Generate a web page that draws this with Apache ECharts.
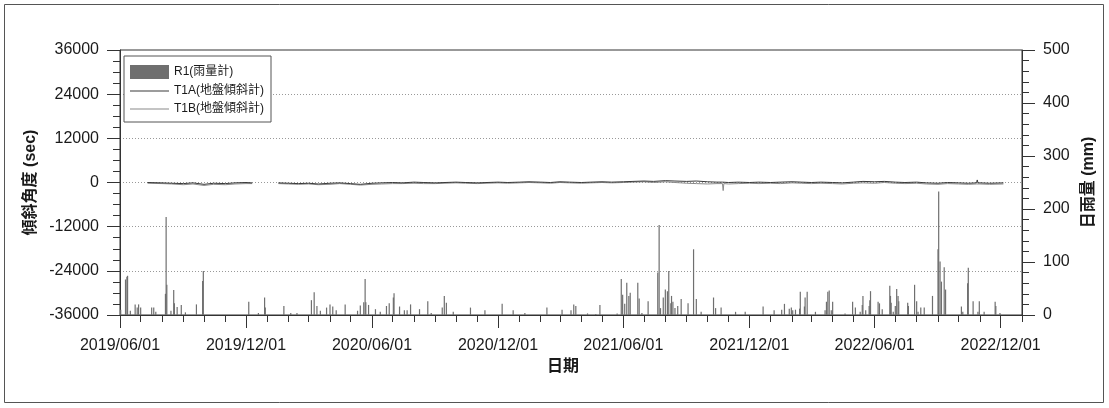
<!DOCTYPE html>
<html>
<head>
<meta charset="utf-8">
<script src="https://cdn.jsdelivr.net/npm/echarts@6/dist/echarts.min.js"></script>
<style>
html,body{margin:0;padding:0;background:#fff;}
#chart{width:1109px;height:408px;}
</style>
</head>
<body>
<div id="chart"></div>
<script>
// ---------- DATA ----------
const seriesNames = ['R1(雨量計)', 'T1A(地盤傾斜計)', 'T1B(地盤傾斜計)'];

const rainDates = [
'2019-06-02','2019-06-09','2019-06-11','2019-06-12','2019-06-16','2019-06-23','2019-06-26','2019-06-28','2019-07-01','2019-07-17',
'2019-07-20','2019-07-23','2019-08-06','2019-08-07','2019-08-08','2019-08-14','2019-08-18','2019-08-19','2019-08-23','2019-08-29',
'2019-09-04','2019-09-20','2019-09-29','2019-09-30','2019-12-05','2019-12-19','2019-12-28','2019-12-29','2020-01-25','2020-02-04',
'2020-02-13','2020-03-05','2020-03-09','2020-03-13','2020-03-18','2020-03-27','2020-04-01','2020-04-05','2020-04-10','2020-04-23',
'2020-05-11','2020-05-15','2020-05-20','2020-05-22','2020-05-23','2020-05-27','2020-06-06','2020-06-13','2020-06-22','2020-06-26',
'2020-07-02','2020-07-03','2020-07-11','2020-07-18','2020-07-22','2020-07-27','2020-08-09','2020-08-21','2020-08-26','2020-09-11',
'2020-09-14','2020-09-17','2020-09-27','2020-10-22','2020-11-12','2020-12-07','2020-12-23','2021-01-09','2021-02-10','2021-03-04',
'2021-03-17','2021-03-21','2021-03-24','2021-04-10','2021-04-22','2021-04-28','2021-05-23','2021-05-29','2021-05-31','2021-06-03',
'2021-06-06','2021-06-09','2021-06-11','2021-06-22','2021-06-24','2021-06-28','2021-07-07','2021-07-21','2021-07-23','2021-07-25',
'2021-07-29','2021-08-01','2021-08-04','2021-08-06','2021-08-09','2021-08-10','2021-08-12','2021-08-15','2021-08-19','2021-08-24',
'2021-09-03','2021-09-11','2021-09-15','2021-09-22','2021-10-10','2021-10-13','2021-10-21','2021-11-11','2021-11-25','2021-12-21',
'2022-01-06','2022-01-17','2022-01-21','2022-01-28','2022-01-31','2022-02-02','2022-02-06','2022-02-12','2022-02-13','2022-02-19',
'2022-02-20','2022-02-23','2022-03-07','2022-03-21','2022-03-23','2022-03-25','2022-03-27','2022-03-30','2022-04-01','2022-04-19',
'2022-04-30','2022-05-04','2022-05-11','2022-05-14','2022-05-15','2022-05-19','2022-05-24','2022-05-25','2022-05-26','2022-06-06',
'2022-06-08','2022-06-12','2022-06-23','2022-06-24','2022-06-25','2022-06-28','2022-07-01','2022-07-03','2022-07-05','2022-07-06',
'2022-07-19','2022-07-20','2022-07-29','2022-08-01','2022-08-03','2022-08-07','2022-08-12','2022-08-24','2022-09-01','2022-09-02',
'2022-09-04','2022-09-06','2022-09-10','2022-09-12','2022-10-05','2022-10-07','2022-10-14','2022-10-15','2022-10-22','2022-10-29',
'2022-10-31','2022-11-07','2022-11-23','2022-11-24','2022-11-30'
];
const rainValues = [
10,67,72,74,8,20,14,20,14,14,
14,6,40,185,57,8,47,22,15,19,
5,20,64,83,25,4,33,14,17,4,
4,28,43,17,8,14,20,16,9,20,
8,18,24,68,24,19,11,6,17,22,
33,41,16,9,9,20,11,26,4,14,
36,23,6,14,9,21,9,4,14,10,
9,20,17,3,2,19,3,68,38,21,
61,36,42,61,31,4,26,80,170,13,
33,48,45,83,22,36,25,13,17,30,
22,124,30,6,33,13,14,6,6,16,
9,10,21,12,14,9,10,12,44,16,
33,44,6,9,25,44,46,9,25,3,
25,14,6,19,36,9,17,28,45,25,
22,11,55,36,23,6,17,49,36,26,
23,17,57,26,6,14,14,36,124,233,
101,63,90,48,16,6,60,89,26,6,
26,6,25,17,4
];

const tiltDates = [
'2019-07-11','2019-08-01','2019-08-15','2019-09-01','2019-09-15','2019-10-01','2019-10-15','2019-11-01','2019-11-15','2019-12-01',
'2019-12-10','2019-12-25','2020-01-17','2020-02-01','2020-02-15','2020-03-01','2020-03-15','2020-04-01','2020-04-15','2020-05-01',
'2020-05-15','2020-06-01','2020-06-15','2020-07-01','2020-07-15','2020-08-01','2020-08-15','2020-09-01','2020-09-15','2020-10-01',
'2020-10-15','2020-11-01','2020-11-15','2020-12-01','2020-12-15','2021-01-01','2021-01-15','2021-02-01','2021-02-15','2021-03-01',
'2021-03-15','2021-04-01','2021-04-15','2021-05-01','2021-05-15','2021-06-01','2021-06-15','2021-07-01','2021-07-15','2021-08-01',
'2021-08-15','2021-09-01','2021-09-15','2021-10-01','2021-10-15','2021-10-23','2021-10-24','2021-10-25','2021-11-01','2021-11-15',
'2021-12-01','2021-12-15','2022-01-01','2022-01-15','2022-02-01','2022-02-15','2022-03-01','2022-03-15','2022-04-01','2022-04-15',
'2022-05-01','2022-05-15','2022-06-01','2022-06-15','2022-07-01','2022-07-15','2022-08-01','2022-08-15','2022-09-01','2022-09-15',
'2022-10-01','2022-10-15','2022-10-27','2022-10-28','2022-10-29','2022-11-01','2022-11-15','2022-12-05'
];
const t1aValues = [
0,-100,-200,-300,-100,-500,-200,-300,-100,0,
-100,null,-100,-200,-300,-200,-400,-200,-100,-300,
-500,-200,-100,0,-100,100,0,-100,0,100,
0,-100,0,100,0,100,200,100,0,200,
100,0,100,200,100,200,300,400,300,500,
400,300,400,200,100,100,100,100,0,100,
0,100,0,100,200,100,0,100,0,-100,
100,300,200,300,100,0,100,-100,-200,0,
-100,-200,-100,700,-100,-100,-200,-100
];
const t1bValues = [
-200,-300,-400,-600,-400,-800,-500,-600,-400,-300,
-300,null,-300,-400,-500,-400,-600,-500,-300,-500,
-700,-500,-400,-300,-300,-200,-300,-300,-200,-100,
-200,-300,-200,-100,-200,-100,0,-100,-200,0,
-100,-200,-100,0,-100,0,100,200,0,200,
0,-200,-300,-400,-300,-300,-2200,-300,-400,-300,
-200,-300,-200,-300,-100,-200,-300,-200,-300,-400,
-200,-100,-200,0,-200,-300,-200,-400,-500,-300,
-400,-500,-400,-400,-400,-400,-500,-400
];

const xMin = '2019-06-01';
const xMax = '2023-01-01';
const labelDates = ['2019-06-01','2019-12-01','2020-06-01','2020-12-01','2021-06-01','2021-12-01','2022-06-01','2022-12-01'];
const monthTickDates = [
'2019-06-01','2019-07-01','2019-08-01','2019-09-01','2019-10-01','2019-11-01','2019-12-01',
'2020-01-01','2020-02-01','2020-03-01','2020-04-01','2020-05-01','2020-06-01','2020-07-01','2020-08-01','2020-09-01','2020-10-01','2020-11-01','2020-12-01',
'2021-01-01','2021-02-01','2021-03-01','2021-04-01','2021-05-01','2021-06-01','2021-07-01','2021-08-01','2021-09-01','2021-10-01','2021-11-01','2021-12-01',
'2022-01-01','2022-02-01','2022-03-01','2022-04-01','2022-05-01','2022-06-01','2022-07-01','2022-08-01','2022-09-01','2022-10-01','2022-11-01','2022-12-01',
'2023-01-01'
];
const tiltAxis = {min: -36000, max: 36000, interval: 12000};
const rainAxis = {min: 0, max: 500, interval: 100};

// ---------- CHART ----------
const ts = d => echarts.number.parseDate(d).getTime();
const pad = n => (n < 10 ? '0' : '') + n;
const fmtDate = v => { const d = new Date(v); return d.getFullYear() + '/' + pad(d.getMonth() + 1) + '/' + pad(d.getDate()); };
const FONT = '"Liberation Sans", Arial, "Noto Sans CJK TC", sans-serif';
const AX = '#333';
const TXT = '#1a1a1a';
const C_RAIN = '#6f6f6f', C_A = '#3a3a3a', C_B = '#8a8a8a';
const LINE_ICON = 'path://M0,0h39v1h-39z';

const chart = echarts.init(document.getElementById('chart'), null, {renderer: 'canvas'});

const rainData = rainDates.map((d, i) => [ts(d), rainValues[i]]);
const t1aData = tiltDates.map((d, i) => [ts(d), t1aValues[i]]);
const t1bData = tiltDates.map((d, i) => [ts(d), t1bValues[i]]);

chart.setOption({
  animation: false,
  textStyle: {fontFamily: FONT, color: TXT},
  grid: {left: 120, right: 87, top: 50, bottom: 93, show: true, borderColor: AX, borderWidth: 1, backgroundColor: 'transparent'},
  legend: {
    data: [
      {name: seriesNames[0], icon: 'rect', itemStyle: {color: C_RAIN}},
      {name: seriesNames[1], icon: LINE_ICON, itemStyle: {color: C_A}},
      {name: seriesNames[2], icon: LINE_ICON, itemStyle: {color: C_B}}
    ],
    orient: 'vertical',
    left: 124, top: 56,
    itemWidth: 39, itemHeight: 14, itemGap: 6,
    symbolKeepAspect: true,
    padding: [9, 7, 7, 6],
    borderColor: '#555', borderWidth: 1, backgroundColor: '#fff',
    textStyle: {fontSize: 12, color: TXT, fontFamily: FONT},
    selectedMode: false
  },
  xAxis: [{
    type: 'value',
    min: ts(xMin), max: ts(xMax),
    name: '日期', nameLocation: 'middle', nameGap: 43,
    nameTextStyle: {fontSize: 16, fontWeight: 'bold', color: TXT, fontFamily: FONT, padding: [0, 16, 0, 0]},
    axisLine: {show: true, onZero: false, lineStyle: {color: AX, width: 1}},
    axisTick: {show: true, length: 13, lineStyle: {color: AX}, customValues: labelDates.map(ts)},
    axisLabel: {show: true, fontSize: 16, color: TXT, margin: 23, customValues: labelDates.map(ts), hideOverlap: false,
      formatter: v => fmtDate(v)},
    splitLine: {show: false}
  }, {
    type: 'value',
    position: 'bottom',
    min: ts(xMin), max: ts(xMax),
    axisLine: {show: false, onZero: false},
    axisTick: {show: true, length: 7, lineStyle: {color: AX}, customValues: monthTickDates.map(ts)},
    axisLabel: {show: false},
    splitLine: {show: false}
  }],
  yAxis: [{
    type: 'value',
    min: tiltAxis.min, max: tiltAxis.max, interval: tiltAxis.interval,
    name: '傾斜角度 (sec)', nameLocation: 'middle', nameGap: 75, nameRotate: 90,
    nameTextStyle: {fontSize: 16, fontWeight: 'bold', color: TXT, fontFamily: FONT},
    axisLine: {show: true, lineStyle: {color: AX}},
    axisTick: {show: true, length: 13, lineStyle: {color: AX}},
    minorTick: {show: true, splitNumber: 4, length: 7, lineStyle: {color: AX}},
    axisLabel: {fontSize: 16, color: TXT, margin: 21, formatter: v => String(v)},
    splitLine: {show: true, lineStyle: {color: '#999', type: [1, 2], width: 1}}
  }, {
    type: 'value',
    position: 'right',
    min: rainAxis.min, max: rainAxis.max, interval: rainAxis.interval,
    name: '日雨量 (mm)', nameLocation: 'middle', nameGap: 55, nameRotate: 90,
    nameTextStyle: {fontSize: 16, fontWeight: 'bold', color: TXT, fontFamily: FONT},
    axisLine: {show: true, lineStyle: {color: AX}},
    axisTick: {show: true, length: 13, lineStyle: {color: AX}},
    minorTick: {show: true, splitNumber: 5, length: 7, lineStyle: {color: AX}},
    axisLabel: {fontSize: 16, color: TXT, margin: 21, formatter: v => String(v)},
    splitLine: {show: false}
  }],
  series: [{
    name: seriesNames[0],
    type: 'bar',
    xAxisIndex: 0, yAxisIndex: 1,
    data: rainData,
    barWidth: 1.2,
    itemStyle: {color: C_RAIN},
    z: 2
  }, {
    name: seriesNames[1],
    type: 'line',
    xAxisIndex: 0, yAxisIndex: 0,
    data: t1aData,
    symbol: 'none', showSymbol: false,
    connectNulls: false,
    lineStyle: {color: C_A, width: 1},
    itemStyle: {color: C_A},
    z: 4
  }, {
    name: seriesNames[2],
    type: 'line',
    xAxisIndex: 0, yAxisIndex: 0,
    data: t1bData,
    symbol: 'none', showSymbol: false,
    connectNulls: false,
    lineStyle: {color: C_B, width: 1},
    itemStyle: {color: C_B},
    z: 3
  }],
  graphic: [{
    type: 'rect',
    shape: {x: 4.5, y: 4.5, width: 1099, height: 398},
    style: {fill: 'none', stroke: '#555', lineWidth: 1},
    silent: true, z: -1
  }]
});
</script>
</body>
</html>
